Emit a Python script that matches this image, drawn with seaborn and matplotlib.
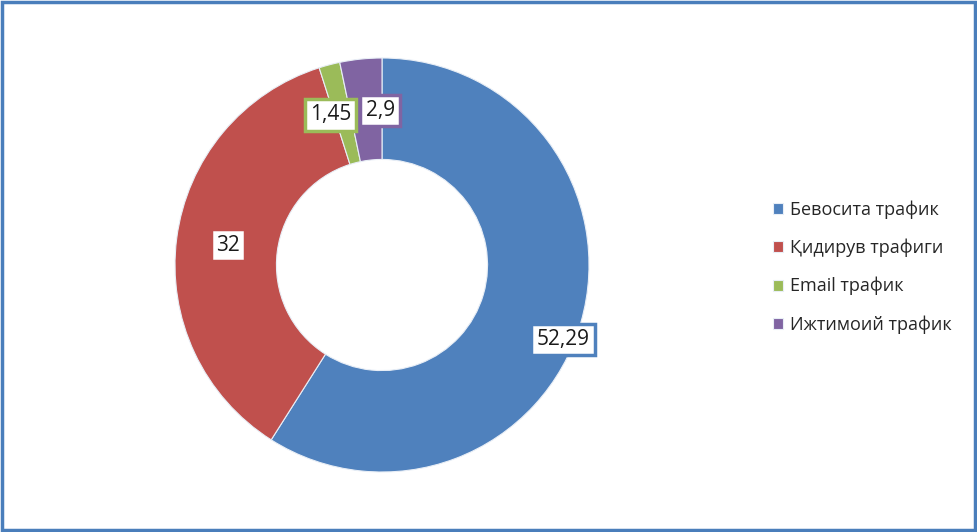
import numpy as np
import matplotlib
matplotlib.use("Agg")
import matplotlib.pyplot as plt
import seaborn as sns
from matplotlib.patches import Rectangle

# Data
categories = ["Бевосита трафик", "Қидирув трафиги", "Email трафик", "Ижтимоий трафик"]
values = [52.29, 32, 1.45, 2.9]
value_labels = ["52,29", "32", "1,45", "2,9"]
colors = ["#4F81BD", "#C0504D", "#9BBB59", "#8064A2"]

sns.set_style("white")
plt.rcParams["font.family"] = ["Open Sans", "DejaVu Sans"]

fig = plt.figure(figsize=(9.77, 5.32), dpi=100)
# blue frame around the chart area
fig.patches.append(Rectangle((0.002, 0.003), 0.996, 0.994, transform=fig.transFigure,
                             fill=False, edgecolor="#4A7EBB", linewidth=2.5))

ax = fig.add_axes([175 / 977, 60 / 532, 414 / 977, 414 / 532])
wedges, _ = ax.pie(values, colors=colors, startangle=90, counterclock=False,
                   radius=1, wedgeprops=dict(width=0.49, edgecolor="#e8eef6", linewidth=0.8))
ax.set_xlim(-1, 1)
ax.set_ylim(-1, 1)
ax.set_aspect("equal")

# label placement: radial distance and pixel nudges per wedge
label_r = [0.94, 0.75, 0.75, 0.75]
nudges = [(-6, -20), (0, 0), (-12, 0), (14, 0)]
for w, lab, r, nd, c in zip(wedges, value_labels, label_r, nudges, colors):
    mid = np.deg2rad((w.theta1 + w.theta2) / 2)
    ax.annotate(lab, xy=(r * np.cos(mid), r * np.sin(mid)), xytext=nd,
                textcoords="offset pixels", ha="center", va="center",
                fontsize=15, color="#1a1a1a",
                bbox=dict(boxstyle="square,pad=0.25", facecolor="white",
                          edgecolor=c, linewidth=2.5))

leg = fig.legend(wedges, categories, loc="center left", bbox_to_anchor=(0.775, 0.498),
                 frameon=False, fontsize=13, handlelength=0.55, handleheight=0.55,
                 handletextpad=0.35, labelspacing=1.1)

fig.savefig("out.png", dpi=100)
